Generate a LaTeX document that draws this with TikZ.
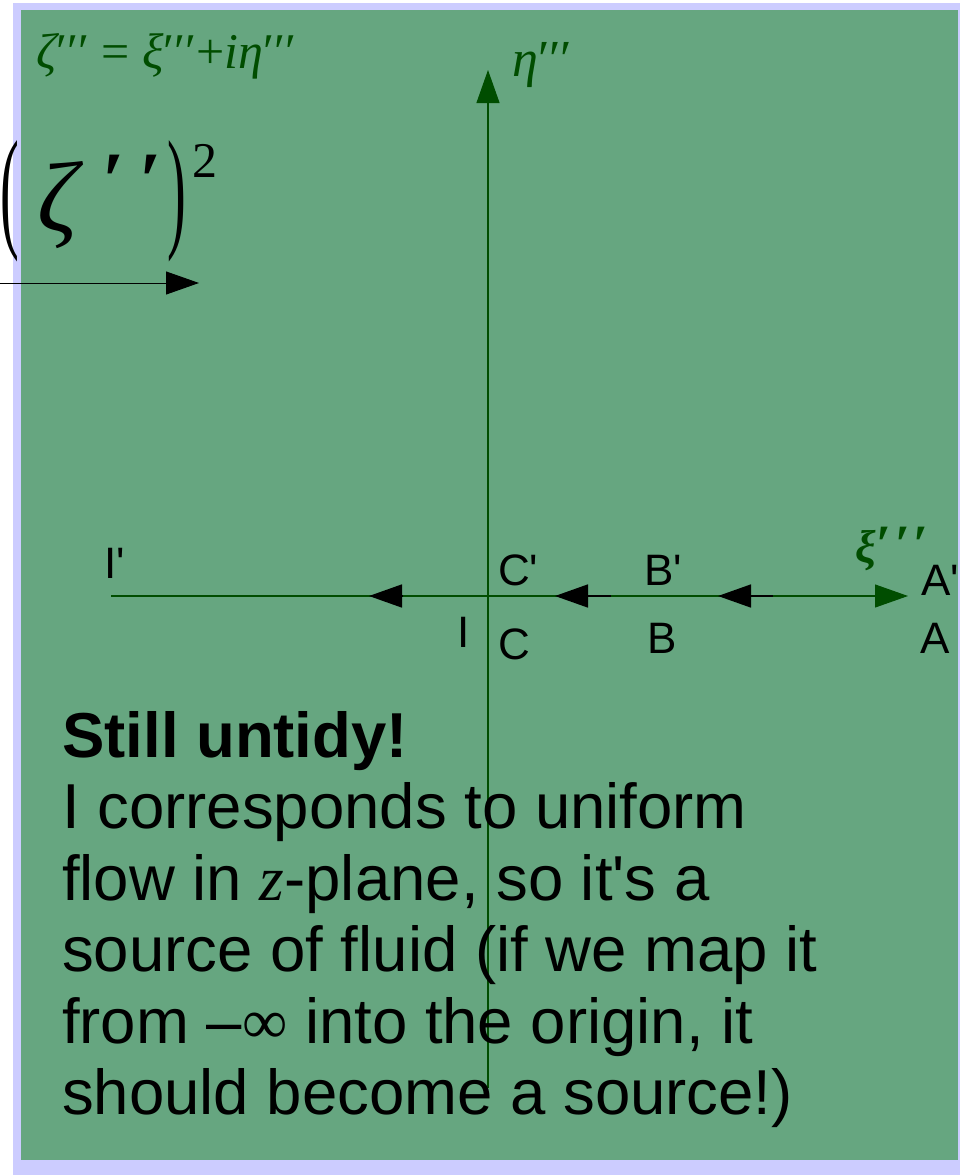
\documentclass[tikz,border=0pt]{standalone}
\usepackage{fontspec}
\usepackage{graphicx}
\setmainfont{Liberation Sans}
\newfontfamily\lsans{Liberation Sans}
\newfontfamily\lserif{Liberation Serif}
\usetikzlibrary{arrows.meta}
\definecolor{bgg}{RGB}{102,166,128}
\definecolor{lav}{RGB}{204,204,255}
\definecolor{dg}{RGB}{0,77,0}
\tikzset{
  tip/.style={-{Triangle[length=33pt,width=23pt]}},
  gaxis/.style={draw=dg,line width=1.1pt,tip},
  barrow/.style={draw=black,line width=1.6pt,tip},
  lbl/.style={anchor=base west,inner sep=0pt,font=\lsans\fontsize{44}{44}\selectfont},
  body/.style={anchor=base west,inner sep=0pt,font=\lsans\fontsize{63.5}{72}\selectfont},
  geq/.style={anchor=base west,inner sep=0pt,text=dg,font=\lserif\fontsize{50}{50}\selectfont},
  big/.style={inner sep=0pt,anchor=center}
}
\begin{document}
\begin{tikzpicture}[x=1pt,y=-1pt]
\useasboundingbox (0,0) rectangle (969,1175);
\fill[white] (0,0) rectangle (969,1175);
\fill[lav] (13,3) rectangle (960,1175);
\fill[bgg] (21,10) rectangle (958,1160);

% top-left equation
\node[geq] (eq) at (36,68) {{\itshape ζ}′′′ = {\itshape ξ}′′′+{\itshape iη}′′′};

% big (zeta'')^2
\node[big] (lp) at (10,201) {\lserif\fontsize{134}{134}\selectfont\scalebox{0.42}[1]{(}};
\node[big] (zt) at (58,205) {\lserif\itshape\fontsize{100}{100}\selectfont ζ};
\node[big] (p1) at (113,181) {\lserif\bfseries\itshape\fontsize{80}{80}\selectfont ′};
\node[big] (p2) at (150,181) {\lserif\bfseries\itshape\fontsize{80}{80}\selectfont ′};
\node[big] (rp) at (177,201) {\lserif\fontsize{134}{134}\selectfont\scalebox{0.42}[1]{)}};
\node[big] (sq) at (205,161) {\lserif\fontsize{50}{50}\selectfont 2};
\coordinate (arL) at (0,283);
\coordinate (arR) at (199,283);
\draw[draw=black,line width=1pt,tip] (arL) -- (arR);

% axes
\coordinate (hL) at (111,596);
\coordinate (hR) at (908,596);
\coordinate (vB) at (488,1088);
\coordinate (vT) at (488,70);
\draw[gaxis] (hL) -- (hR);
\draw[gaxis] (vB) -- (vT);

% black arrows on the real axis
\coordinate (a1s) at (402,596); \coordinate (a1e) at (369,596);
\coordinate (a2s) at (611,596); \coordinate (a2e) at (555,596);
\coordinate (a3s) at (773,596); \coordinate (a3e) at (718,596);
\draw[barrow] (a1s) -- (a1e);
\draw[barrow] (a2s) -- (a2e);
\draw[barrow] (a3s) -- (a3e);

% axis names
\node[geq,font=\lserif\fontsize{52}{52}\selectfont] (eta) at (512,76) {{\itshape η}′′′};
\node[geq,font=\lserif\bfseries\fontsize{46}{46}\selectfont] (xi) at (855,562) {{\itshape ξ}\kern1pt{\fontsize{54}{54}\selectfont ′\kern3pt′\kern3pt′}};

% point labels
\node[lbl] (Ip) at (104,578) {I'};
\node[lbl] (Cp) at (498,585) {C'};
\node[lbl] (Bp) at (644,585) {B'};
\node[lbl] (Ap) at (921,595) {A'};
\node[lbl] (I) at (457,647) {I};
\node[lbl] (C) at (498,659) {C};
\node[lbl] (B) at (647,653) {B};
\node[lbl] (A) at (920,653) {A};

% body text
\node[body] (t1) at (62,757) {\bfseries Still untidy!};
\node[body] (t2) at (62,828.5) {I corresponds to uniform};
\node[body] (t3) at (62,900) {flow in {\lserif\itshape z}-plane, so it's a};
\node[body] (t4) at (62,971.5) {source of fluid (if we map it};
\node[body] (t5) at (62,1043) {from –{\lserif ∞} into the origin, it};
\node[body] (t6) at (62,1114.5) {should become a source!)};
\end{tikzpicture}
\end{document}
